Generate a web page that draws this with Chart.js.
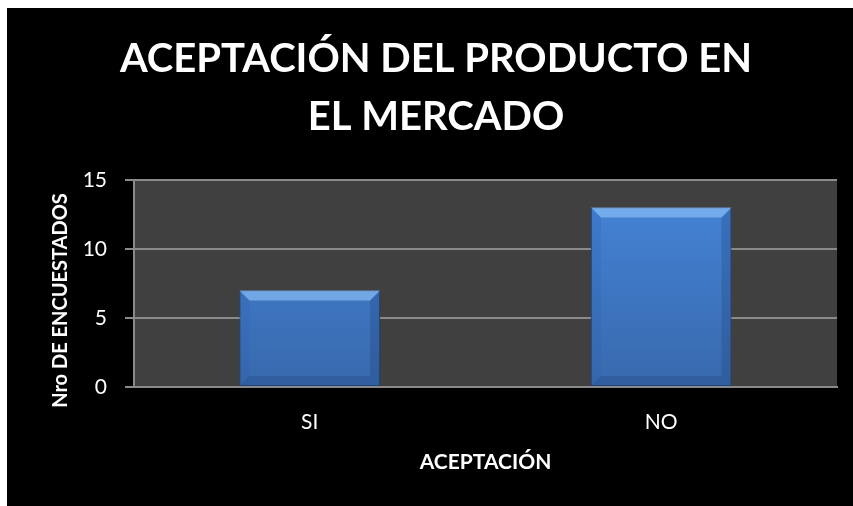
<!DOCTYPE html>
<html>
<head>
<meta charset="utf-8">
<script src="https://cdn.jsdelivr.net/npm/chart.js@4"></script>
<style>
  html, body { margin: 0; padding: 0; background: #ffffff; }
  #wrap { position: absolute; left: 7px; top: 8px; width: 846px; height: 498px; background: #000000; }
</style>
</head>
<body>
<div id="wrap"><canvas id="chart"></canvas></div>
<script>
// datos del gráfico
const categorias = ['SI', 'NO'];
const encuestados = [7, 13];
const tituloLineas = ['ACEPTACIÓN DEL PRODUCTO EN', 'EL MERCADO'];
const tituloX = 'ACEPTACIÓN';
// los espacios finales bajan un poco el texto girado, como en el original
const tituloY = 'Nro DE ENCUESTADOS       ';

const fuente = 'Lato, "Open Sans", sans-serif';

// fondo gris del área de trazado
const fondoArea = {
  id: 'fondoArea',
  beforeDraw(chart) {
    const a = chart.chartArea;
    const ctx = chart.ctx;
    ctx.save();
    ctx.fillStyle = '#404040';
    ctx.fillRect(a.left, a.top, a.right - a.left, a.bottom - a.top);
    ctx.restore();
  }
};

// bisel de cada barra (luz arriba, sombra a la derecha y abajo)
const bisel = {
  id: 'bisel',
  afterDatasetsDraw(chart) {
    const ctx = chart.ctx;
    chart.getDatasetMeta(0).data.forEach(function (bar) {
      const l = bar.x - bar.width / 2, r = bar.x + bar.width / 2, t = bar.y, b = bar.base;
      const d = 10;
      ctx.save();
      ctx.fillStyle = 'rgba(150, 200, 255, 0.6)';
      ctx.beginPath();
      ctx.moveTo(l, t); ctx.lineTo(r, t); ctx.lineTo(r - d, t + d); ctx.lineTo(l + d, t + d);
      ctx.closePath(); ctx.fill();
      ctx.fillStyle = 'rgba(20, 50, 100, 0.22)';
      ctx.beginPath();
      ctx.moveTo(r, t); ctx.lineTo(r, b); ctx.lineTo(r - d, b - d); ctx.lineTo(r - d, t + d);
      ctx.closePath(); ctx.fill();
      ctx.beginPath();
      ctx.moveTo(l, b); ctx.lineTo(r, b); ctx.lineTo(r - d, b - d); ctx.lineTo(l + d, b - d);
      ctx.closePath(); ctx.fill();
      ctx.fillStyle = 'rgba(40, 90, 170, 0.18)';
      ctx.beginPath();
      ctx.moveTo(l, t); ctx.lineTo(l, b); ctx.lineTo(l + d, b - d); ctx.lineTo(l + d, t + d);
      ctx.closePath(); ctx.fill();
      ctx.restore();
    });
  }
};

new Chart(document.getElementById('chart'), {
  type: 'bar',
  data: {
    labels: categorias,
    datasets: [{
      data: encuestados,
      backgroundColor: function (c) {
        const a = c.chart.chartArea;
        if (!a) return '#4080d0';
        const g = c.chart.ctx.createLinearGradient(0, a.top, 0, a.bottom);
        g.addColorStop(0, '#4585d8');
        g.addColorStop(1, '#3869ad');
        return g;
      },
      borderColor: '#244a80',
      borderWidth: 1,
      borderSkipped: false,
      barPercentage: 0.4,
      categoryPercentage: 1
    }]
  },
  options: {
    responsive: true,
    maintainAspectRatio: false,
    animation: false,
    layout: { padding: { left: 28, right: 16, top: 0, bottom: 0 } },
    plugins: {
      legend: { display: false },
      tooltip: { enabled: false },
      title: {
        display: true,
        text: tituloLineas,
        color: '#ffffff',
        font: { family: fuente, size: 40, weight: 'bold', lineHeight: 1.45 },
        padding: { top: 22, bottom: 34 }
      }
    },
    scales: {
      x: {
        afterFit: function (s) { s.height = 119; },
        grid: { display: false },
        border: { display: true, color: '#8a8a8a', width: 2 },
        ticks: { color: '#ffffff', font: { family: fuente, size: 21 }, padding: 15 },
        title: {
          display: true, text: tituloX, color: '#ffffff',
          font: { family: fuente, size: 21, weight: 'bold' },
          padding: { bottom: 31 }
        }
      },
      y: {
        min: 0, max: 15,
        afterFit: function (s) { s.width = 99; },
        grid: { color: '#8a8a8a', lineWidth: 2, tickLength: 9 },
        border: { display: true, color: '#8a8a8a', width: 2 },
        ticks: { stepSize: 5, color: '#ffffff', font: { family: fuente, size: 21 }, padding: 18 },
        title: {
          display: true, text: tituloY, color: '#ffffff',
          font: { family: fuente, size: 20, weight: 'bold' },
          padding: { top: 14 }
        }
      }
    }
  },
  plugins: [fondoArea, bisel]
});
</script>
</body>
</html>
